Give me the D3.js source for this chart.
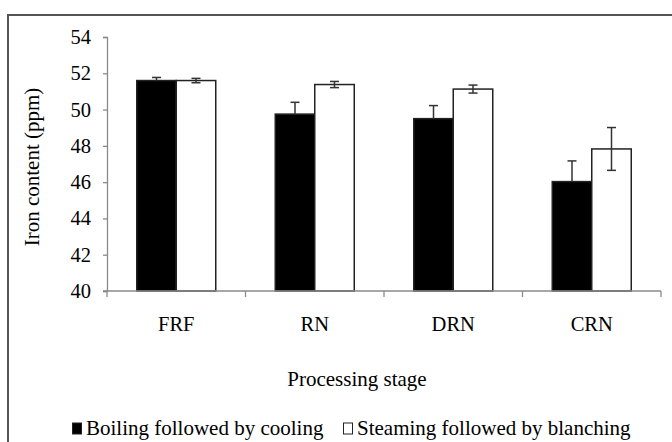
<!DOCTYPE html>
<html>
<head>
<meta charset="utf-8">
<script src="https://cdn.jsdelivr.net/npm/d3@7"></script>
<style>
  body { margin: 0; background: #fff; }
  svg text { font-family: "Liberation Serif", "Times New Roman", serif; fill: #000; }
</style>
</head>
<body>
<div id="chart"></div>
<script>
// data
var stages = ["FRF", "RN", "DRN", "CRN"];
var seriesNames = ["Boiling followed by cooling", "Steaming followed by blanching"];
var boilingMean = [51.6, 49.75, 49.5, 46.03];
var boilingErr = [0.17, 0.65, 0.72, 1.14];
var steamingMean = [51.6, 51.38, 51.13, 47.83];
var steamingErr = [0.12, 0.17, 0.22, 1.18];
var yTicks = [40, 42, 44, 46, 48, 50, 52, 54];

var W = 672, H = 442;
var plot = { left: 107, right: 661, top: 37, bottom: 291 };

var svg = d3.select("#chart").append("svg")
    .attr("width", W)
    .attr("height", H);

// outer frame (cut off on the right and bottom)
svg.append("rect")
    .attr("x", 8).attr("y", 15)
    .attr("width", 800).attr("height", 600)
    .attr("fill", "none")
    .attr("stroke", "#555")
    .attr("stroke-width", 2);

var x = d3.scaleBand()
    .domain(stages)
    .range([plot.left, plot.right])
    .padding(0);

var y = d3.scaleLinear()
    .domain([40, 54])
    .range([plot.bottom, plot.top]);

var rows = stages.map(function (s, i) {
    return {
        stage: s,
        values: [
            { k: 0, v: boilingMean[i], e: boilingErr[i] },
            { k: 1, v: steamingMean[i], e: steamingErr[i] }
        ]
    };
});

// y axis
var yAxis = svg.append("g")
    .attr("transform", "translate(" + plot.left + ",0)")
    .call(d3.axisLeft(y).tickValues(yTicks).tickSize(4).tickPadding(12).tickFormat(d3.format("d")));
yAxis.attr("font-family", "Liberation Serif").attr("font-size", 20.5);
yAxis.selectAll("path, line").attr("stroke", "#8a8a8a").attr("stroke-width", 1.3);

var groups = svg.selectAll(".stage")
    .data(rows)
    .enter().append("g")
    .attr("class", "stage")
    .attr("transform", function (d) { return "translate(" + x(d.stage) + ",0)"; });

var barW = 39.5;
function barX(k) { return x.bandwidth() / 2 - barW + k * barW; }

groups.selectAll("rect")
    .data(function (d) { return d.values; })
    .enter().append("rect")
    .attr("x", function (d) { return barX(d.k); })
    .attr("y", function (d) { return y(d.v); })
    .attr("width", barW)
    .attr("height", function (d) { return plot.bottom - y(d.v); })
    .attr("fill", function (d) { return d.k === 0 ? "#000" : "#fff"; })
    .attr("stroke", "#222")
    .attr("stroke-width", 1.5);

// error bars
var eb = groups.selectAll(".err")
    .data(function (d) { return d.values; })
    .enter().append("g")
    .attr("class", "err")
    .attr("stroke", "#333")
    .attr("stroke-width", 1.5);

eb.append("line")
    .attr("x1", function (d) { return barX(d.k) + barW / 2; })
    .attr("x2", function (d) { return barX(d.k) + barW / 2; })
    .attr("y1", function (d) { return y(d.v + d.e); })
    .attr("y2", function (d) { return d.k === 0 ? y(d.v) : y(d.v - d.e); });
eb.append("line")
    .attr("x1", function (d) { return barX(d.k) + barW / 2 - 4.5; })
    .attr("x2", function (d) { return barX(d.k) + barW / 2 + 4.5; })
    .attr("y1", function (d) { return y(d.v + d.e); })
    .attr("y2", function (d) { return y(d.v + d.e); });
eb.filter(function (d) { return d.k === 1; }).append("line")
    .attr("x1", function (d) { return barX(d.k) + barW / 2 - 4.5; })
    .attr("x2", function (d) { return barX(d.k) + barW / 2 + 4.5; })
    .attr("y1", function (d) { return y(d.v - d.e); })
    .attr("y2", function (d) { return y(d.v - d.e); });

// x axis: ticks at category boundaries
var xAxis = svg.append("g")
    .attr("transform", "translate(0," + plot.bottom + ")");
xAxis.append("line")
    .attr("x1", plot.left - 4).attr("x2", plot.right)
    .attr("stroke", "#8a8a8a").attr("stroke-width", 1.3);
xAxis.selectAll(".tick")
    .data(stages.map(function (s) { return x(s); }).concat([plot.right]))
    .enter().append("line")
    .attr("x1", function (d) { return d; })
    .attr("x2", function (d) { return d; })
    .attr("y1", 0).attr("y2", 6)
    .attr("stroke", "#8a8a8a").attr("stroke-width", 1.3);
xAxis.selectAll("text")
    .data(stages)
    .enter().append("text")
    .attr("x", function (d) { return x(d) + x.bandwidth() / 2; })
    .attr("y", 40)
    .attr("text-anchor", "middle")
    .style("font-size", "20.5px")
    .text(function (d) { return d; });

// axis titles
svg.append("text")
    .attr("transform", "translate(39,167) rotate(-90)")
    .attr("text-anchor", "middle")
    .style("font-size", "21px")
    .text("Iron content (ppm)");

svg.append("text")
    .attr("x", 357).attr("y", 386)
    .attr("text-anchor", "middle")
    .style("font-size", "21px")
    .text("Processing stage");

// legend
var legend = svg.append("g").attr("transform", "translate(0,435)");
var legendX = [72, 343];
var li = legend.selectAll("g")
    .data(seriesNames)
    .enter().append("g")
    .attr("transform", function (d, i) { return "translate(" + legendX[i] + ",0)"; });
li.append("rect")
    .attr("x", 0.5).attr("y", -12)
    .attr("width", 9).attr("height", 11)
    .attr("fill", function (d, i) { return i === 0 ? "#000" : "#fff"; })
    .attr("stroke", "#222").attr("stroke-width", 1);
li.append("text")
    .attr("x", 14).attr("y", 0)
    .style("font-size", "21px")
    .text(function (d) { return d; });
</script>
</body>
</html>
